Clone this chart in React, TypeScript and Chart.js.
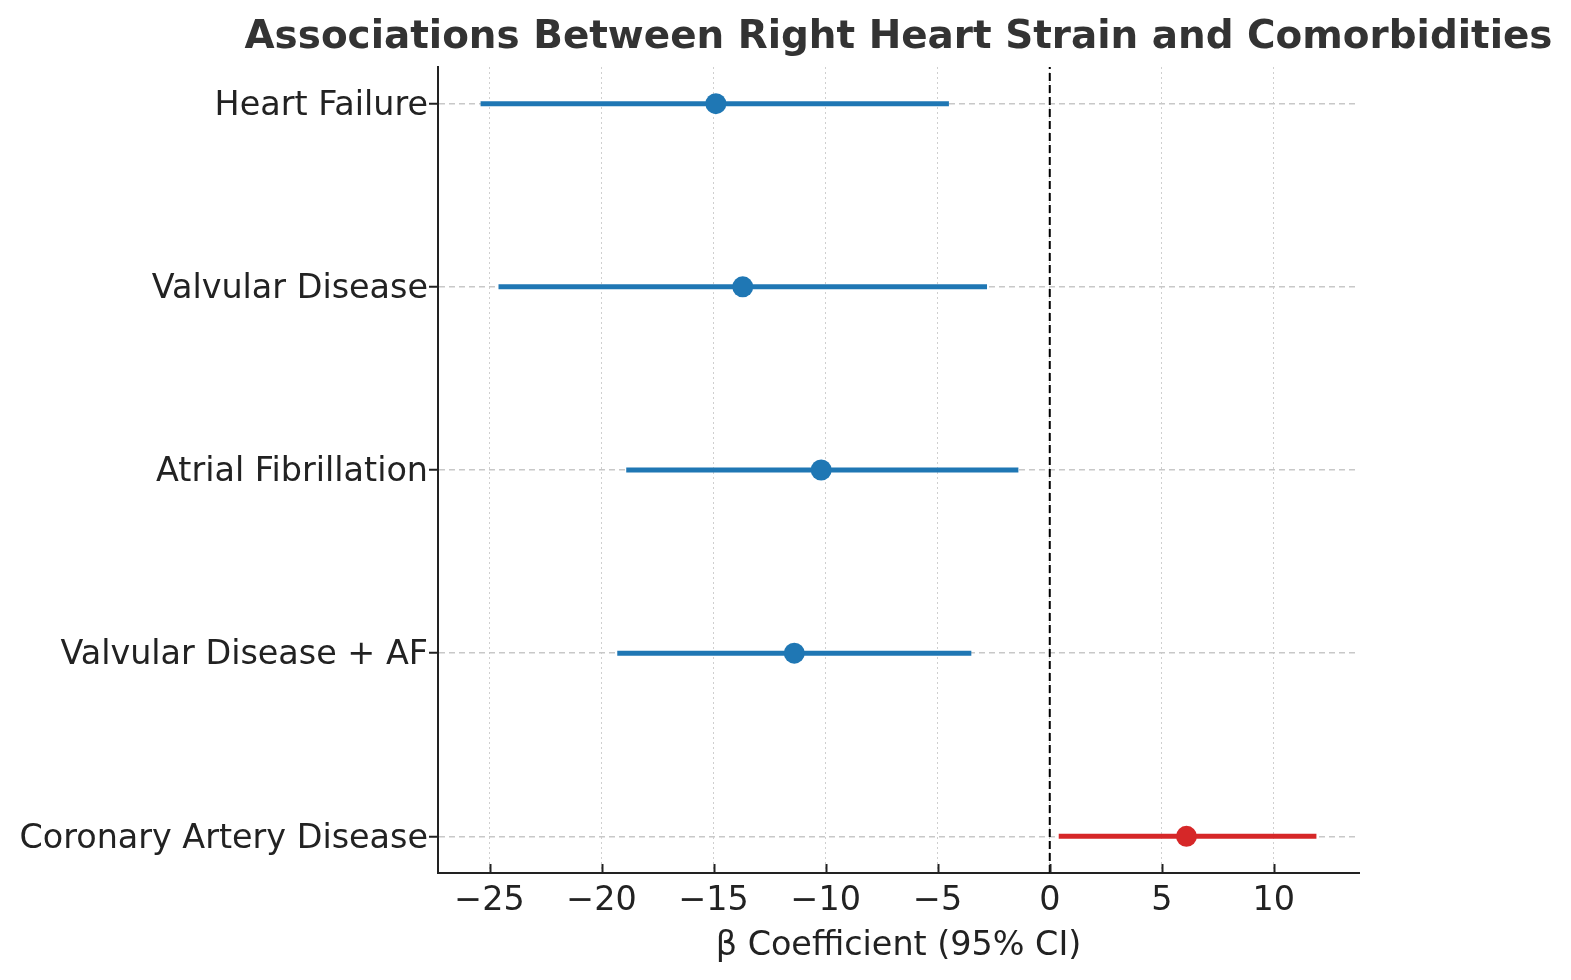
import React, { useEffect, useRef } from 'react';
import { Chart, registerables } from 'chart.js';

Chart.register(...registerables);

// ---- data ----
const CATEGORIES = [
  'Heart Failure',
  'Valvular Disease',
  'Atrial Fibrillation',
  'Valvular Disease + AF',
  'Coronary Artery Disease',
];
const ESTIMATES = [-14.9, -13.7, -10.2, -11.4, 6.1];
const LOWER = [-25.4, -24.6, -18.9, -19.3, 0.4];
const UPPER = [-4.5, -2.8, -1.4, -3.5, 11.9];
const X_TICKS = [-25, -20, -15, -10, -5, 0, 5, 10];
const X_MIN = -27.3;
const X_MAX = 13.8;
const TITLE = 'Associations Between Right Heart Strain and Comorbidities';
const X_LABEL = 'β Coefficient (95% CI)';

const BLUE = '#1f77b4';
const RED = '#d62728';
const FONT = '"DejaVu Sans", sans-serif';
const TEXT = '#222222';
const LABEL_SIZE = 33.4;

export default function App() {
  const ref = useRef<HTMLCanvasElement>(null);

  useEffect(() => {
    if (!ref.current) return;
    const n = CATEGORIES.length;
    const yOf = (i: number) => n - 1 - i;
    const colorOf = (i: number) => (LOWER[i] > 0 ? RED : BLUE);

    const pointSet: any = {
      label: 'Estimate',
      data: ESTIMATES.map((v, i) => ({ x: v, y: yOf(i) })),
      showLine: false,
      pointRadius: 10.5,
      pointBackgroundColor: CATEGORIES.map((_, i) => colorOf(i)),
      pointBorderColor: CATEGORIES.map((_, i) => colorOf(i)),
      pointBorderWidth: 0,
    };
    const ciSets: any[] = CATEGORIES.map((c, i) => ({
      label: c + ' CI',
      data: [
        { x: LOWER[i], y: yOf(i) },
        { x: UPPER[i], y: yOf(i) },
      ],
      showLine: true,
      borderColor: colorOf(i),
      backgroundColor: colorOf(i),
      borderWidth: 5,
      borderCapStyle: 'butt',
      pointRadius: 0,
    }));
    const zeroSet: any = {
      label: 'zero',
      data: [
        { x: 0, y: -0.2 },
        { x: 0, y: n - 1 + 0.2 },
      ],
      showLine: true,
      borderColor: '#000000',
      borderWidth: 2,
      borderDash: [8, 4],
      pointRadius: 0,
    };

    const extras = {
      id: 'extras',
      afterDraw(chart: any) {
        const { ctx, chartArea } = chart;
        const x = chart.scales.x;
        ctx.save();
        ctx.strokeStyle = TEXT;
        ctx.lineWidth = 2;
        for (const t of X_TICKS) {
          const px = Math.round(x.getPixelForValue(t)) + 0.5;
          ctx.beginPath();
          ctx.moveTo(px, chartArea.bottom);
          ctx.lineTo(px, chartArea.bottom - 9);
          ctx.stroke();
        }
        ctx.font = `bold 38.9px ${FONT}`;
        ctx.fillStyle = '#333333';
        ctx.textAlign = 'center';
        ctx.textBaseline = 'middle';
        ctx.fillText(TITLE, (chartArea.left + chartArea.right) / 2, 38);
        ctx.restore();
      },
    };

    const fmt = (v: number) => (v < 0 ? '\u2212' + Math.abs(v) : String(v));

    const chart = new Chart(ref.current, {
      type: 'scatter',
      data: { datasets: [pointSet, ...ciSets, zeroSet] },
      options: {
        responsive: false,
        animation: false,
        devicePixelRatio: 1,
        events: [],
        layout: { padding: { top: 67, right: 212, left: 0, bottom: 0 } },
        plugins: {
          legend: { display: false },
          tooltip: { enabled: false },
          title: { display: false },
        },
        scales: {
          x: {
            type: 'linear',
            min: X_MIN,
            max: X_MAX,
            afterBuildTicks: (s: any) => {
              s.ticks = X_TICKS.map((v) => ({ value: v }));
            },
            afterFit: (s: any) => {
              s.height = 107;
            },
            grid: {
              color: '#cfcfcf',
              lineWidth: 1,
              drawTicks: false,
            },
            border: { color: TEXT, width: 2, dash: [2, 3] },
            ticks: {
              font: { family: FONT, size: LABEL_SIZE },
              color: TEXT,
              padding: 8,
              callback: (v: any) => fmt(Number(v)),
            },
            title: {
              display: true,
              text: X_LABEL,
              font: { family: FONT, size: LABEL_SIZE },
              color: TEXT,
              padding: { top: 0, bottom: 14 },
            },
          },
          y: {
            type: 'linear',
            min: -0.2,
            max: n - 1 + 0.2,
            afterBuildTicks: (s: any) => {
              s.ticks = CATEGORIES.map((_, i) => ({ value: yOf(i) }));
            },
            afterFit: (s: any) => {
              s.width = 438;
            },
            grid: {
              color: '#c8c8c8',
              lineWidth: 1.5,
              tickLength: 9,
              tickColor: TEXT,
              tickWidth: 2,
              tickBorderDash: [],
            } as any,
            border: { color: TEXT, width: 2, dash: [6, 4] },
            ticks: {
              font: { family: FONT, size: LABEL_SIZE },
              color: TEXT,
              padding: 1,
              labelOffset: 2.5,
              callback: (v: any) => CATEGORIES[n - 1 - Number(v)] ?? '',
            },
          },
        },
      } as any,
      plugins: [extras],
    });
    return () => chart.destroy();
  }, []);

  return (
    <div style={{ position: 'absolute', left: 0, top: 0, width: 1571, height: 980, background: '#fff' }}>
      <canvas ref={ref} width={1571} height={980} style={{ display: 'block' }} />
    </div>
  );
}
